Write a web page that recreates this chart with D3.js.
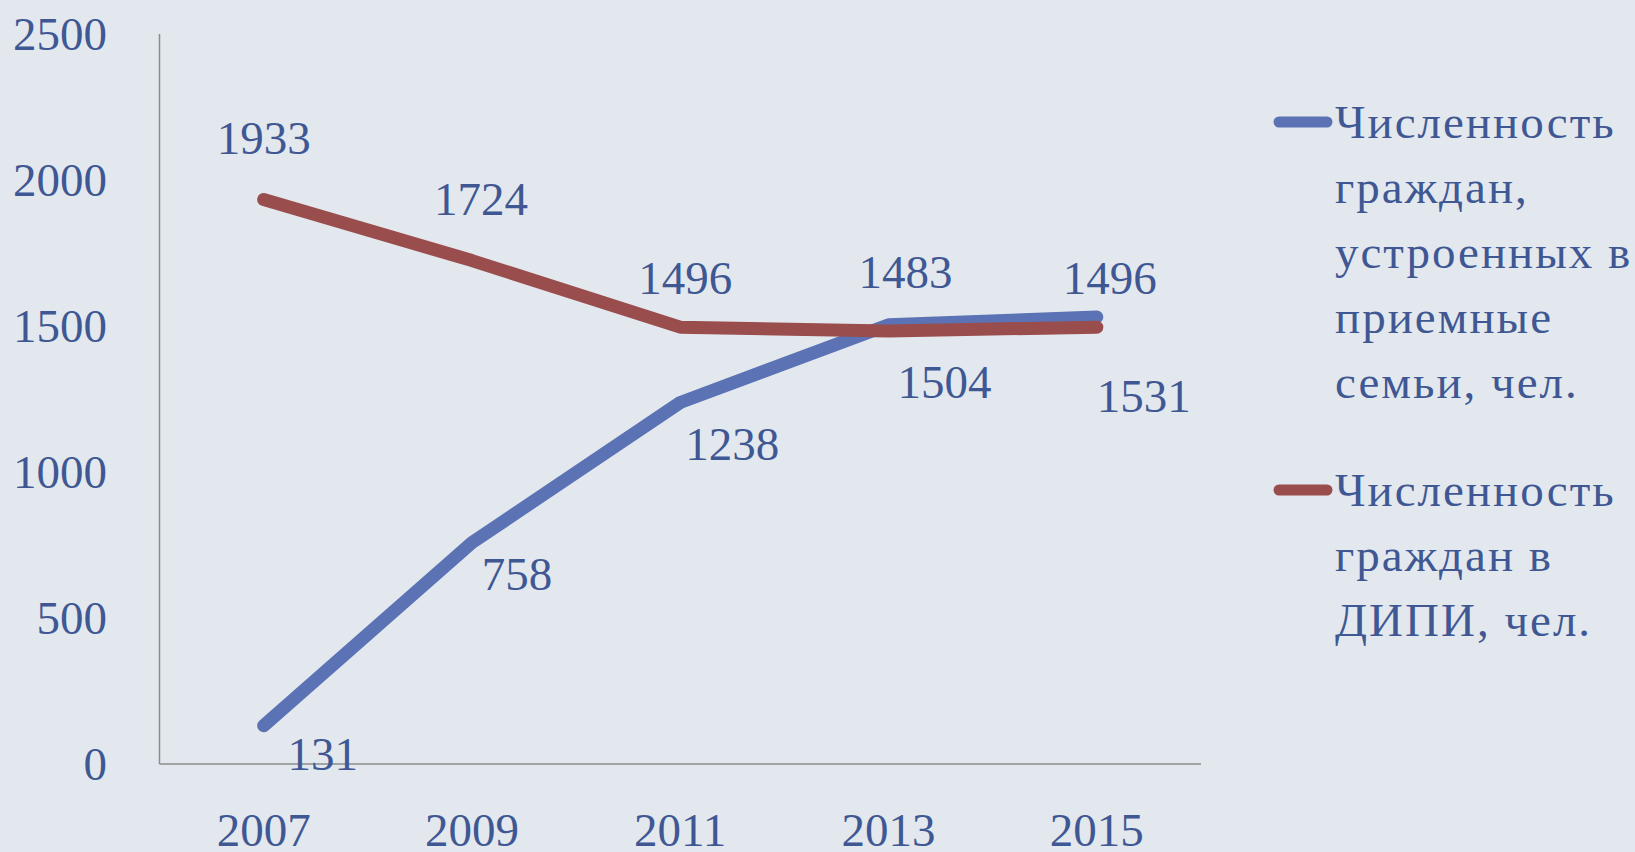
<!DOCTYPE html>
<html>
<head>
<meta charset="utf-8">
<script src="https://cdn.jsdelivr.net/npm/d3@7"></script>
<style>
  html, body { margin: 0; padding: 0; background: #e3e8ef; }
  svg { display: block; }
  text { font-family: "Liberation Serif", "DejaVu Serif", serif; fill: #3f5893; }
</style>
</head>
<body>
<div id="chart"></div>
<script>
// chart data
const years = ["2007", "2009", "2011", "2013", "2015"];
const fosterFamilies = [131, 758, 1238, 1504, 1531];   // blue
const careHomes = [1933, 1724, 1496, 1483, 1496];      // red
const yTicks = [0, 500, 1000, 1500, 2000, 2500];
const seriesNames = [
  ["Численность", "граждан,", "устроенных в", "приемные", "семьи, чел."],
  ["Численность", "граждан в", "ДИПИ, чел."]
];

// hand placed label nudges (px) as in the original
const blueNudge = [[59, 28], [45, 31], [52, 41], [56, 57], [47, 79]];
const redNudge = [[0, -62], [9, -62], [5, -50], [17, -59], [13, -50]];

const width = 1635, height = 852;
const colors = ["#5b72b4", "#9a4d4d"];
const fontSize = 47;

const svg = d3.select("#chart").append("svg")
  .attr("width", width)
  .attr("height", height);

const x = d3.scalePoint().domain(years).range([159.5, 1201]).padding(0.5);
const y = d3.scaleLinear().domain([0, 2500]).range([764, 34]);

// axes lines
svg.append("line")
  .attr("x1", 159.5).attr("x2", 159.5)
  .attr("y1", y(2500)).attr("y2", y(0))
  .attr("stroke", "#8c8c8c").attr("stroke-width", 1.5);
svg.append("line")
  .attr("x1", 159.5).attr("x2", 1201)
  .attr("y1", y(0)).attr("y2", y(0))
  .attr("stroke", "#8c8c8c").attr("stroke-width", 1.5);

// y tick labels
svg.append("g").selectAll("text")
  .data(yTicks)
  .enter().append("text")
  .attr("x", 107)
  .attr("y", (d) => y(d))
  .attr("dy", "0.35em")
  .attr("text-anchor", "end")
  .attr("font-size", fontSize)
  .text((d) => d);

// x tick labels (bottom edge is cut in the original too)
svg.append("g").selectAll("text")
  .data(years)
  .enter().append("text")
  .attr("x", (d) => x(d))
  .attr("y", 830)
  .attr("dy", "0.35em")
  .attr("text-anchor", "middle")
  .attr("font-size", fontSize)
  .text((d) => d);

const line = d3.line()
  .x((d, i) => x(years[i]))
  .y((d) => y(d));

const series = [fosterFamilies, careHomes];
series.forEach((vals, k) => {
  svg.append("path")
    .datum(vals)
    .attr("d", line)
    .attr("fill", "none")
    .attr("stroke", colors[k])
    .attr("stroke-width", 13)
    .attr("stroke-linecap", "round")
    .attr("stroke-linejoin", "round");
});

// data labels
const nudges = [blueNudge, redNudge];
series.forEach((vals, k) => {
  svg.append("g").selectAll("text")
    .data(vals)
    .enter().append("text")
    .attr("x", (d, i) => x(years[i]) + nudges[k][i][0])
    .attr("y", (d, i) => y(d) + nudges[k][i][1])
    .attr("dy", "0.35em")
    .attr("text-anchor", "middle")
    .attr("font-size", fontSize)
    .text((d) => d);
});

// legend
const legendTop = [122, 490];
const lineGap = 65;
seriesNames.forEach((lines, k) => {
  const g = svg.append("g");
  g.append("line")
    .attr("x1", 1279).attr("x2", 1327)
    .attr("y1", legendTop[k]).attr("y2", legendTop[k])
    .attr("stroke", colors[k])
    .attr("stroke-width", 11)
    .attr("stroke-linecap", "round");
  g.selectAll("text")
    .data(lines)
    .enter().append("text")
    .attr("x", 1335)
    .attr("y", (d, i) => legendTop[k] + i * lineGap)
    .attr("dy", "0.35em")
    .attr("font-size", fontSize)
    .attr("letter-spacing", 2)
    .text((d) => d);
});
</script>
</body>
</html>
